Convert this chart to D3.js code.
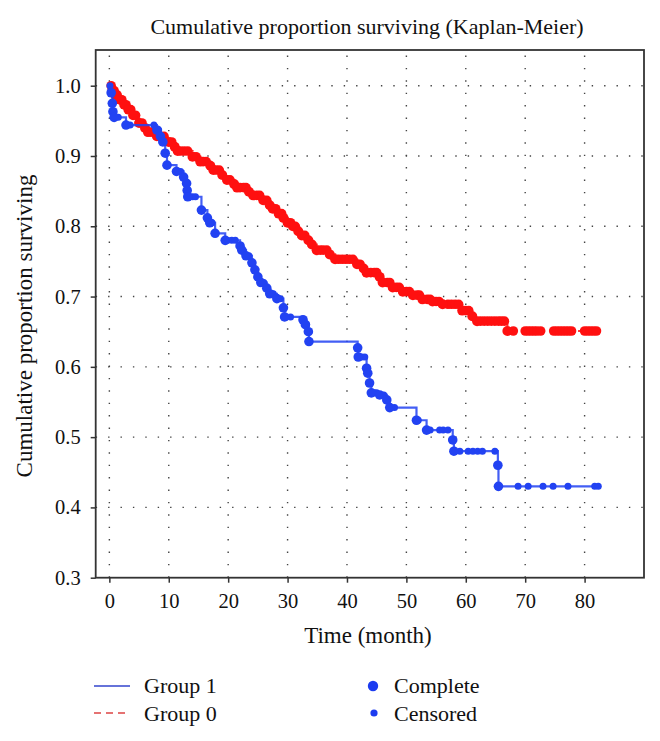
<!DOCTYPE html>
<html>
<head>
<meta charset="utf-8">
<script src="https://cdn.jsdelivr.net/npm/d3@7"></script>
<style>
html,body{margin:0;padding:0;background:#fff;}
svg{display:block;}
text{font-family:"Liberation Serif","DejaVu Serif",serif;fill:#111;}
</style>
</head>
<body>
<svg id="chart" width="660" height="741"></svg>
<script>
// ---------- data ----------
const titleText = "Cumulative proportion surviving (Kaplan-Meier)";
const xLabelText = "Time (month)";
const yLabelText = "Cumulative proportion surviving";
const xTicks = [0, 10, 20, 30, 40, 50, 60, 70, 80];
const yTicks = [0.3, 0.4, 0.5, 0.6, 0.7, 0.8, 0.9, 1.0];
const seriesNames = ["Group 1", "Group 0"];
const markerNames = ["Complete", "Censored"];

// Group 1 (blue) : event times and survival after each event
const g1Times = [0, 0.3, 0.5, 0.6, 0.8, 2.8, 8.0, 8.6, 9.0, 9.4, 9.7, 11.3, 12.5, 13.0, 13.1, 13.2,
  15.5, 16.5, 16.9, 17.8, 19.5, 22.0, 22.3, 23.0, 24.0, 24.5, 25.0, 25.5, 26.5, 27.0, 28.2, 29.3, 29.5,
  32.6, 33.0, 33.5, 33.6, 41.8, 41.9, 43.3, 43.5, 43.8, 44.1, 45.5, 46.7, 47.2, 51.7, 53.4, 57.8, 58.0,
  65.4, 65.5];
const g1Surv = [1.0, 0.99, 0.975, 0.963, 0.955, 0.944, 0.937, 0.928, 0.920, 0.904, 0.887, 0.878, 0.870, 0.861, 0.851, 0.842,
  0.823, 0.812, 0.805, 0.790, 0.780, 0.772, 0.766, 0.758, 0.748, 0.738, 0.728, 0.720, 0.712, 0.704, 0.697, 0.684, 0.671,
  0.667, 0.660, 0.650, 0.636, 0.627, 0.614, 0.598, 0.591, 0.577, 0.563, 0.560, 0.553, 0.542, 0.524, 0.510, 0.496, 0.480,
  0.460, 0.430];
const g1End = 82.7;
const g1Cens = [0.1, 1.5, 3.5, 7.5, 8.3, 12.0, 14.0, 14.5, 17.3, 19.9, 20.6, 21.2, 23.5, 26.0, 27.6, 28.8, 30.5, 33.2,
  42.5, 43.0, 44.6, 45.0, 46.2, 48.0, 52.0, 54.0, 55.6, 56.2, 57.0, 59.0, 60.4, 61.2, 62.0, 62.8, 64.9,
  68.8, 70.5, 73.0, 74.7, 77.2, 81.7, 82.3];

// Group 0 (red)
const g0Times = [0, 0.5, 1.0, 1.8, 2.5, 3.2, 4.0, 5.0, 6.0, 6.5, 8.0, 10.0, 11.0, 11.5, 14.0, 15.3, 17.0, 17.5,
  19.0, 19.8, 21.0, 21.5, 23.5, 24.2, 25.9, 27.0, 27.5, 28.5, 29.3, 30.0, 30.9, 31.8, 32.4, 33.5, 34.1, 34.9,
  37.1, 38.0, 41.7, 42.8, 43.3, 45.5, 46.0, 47.7, 49.4, 51.1, 52.7, 54.4, 56.1, 59.4, 61.1, 61.9, 67.0];
const g0Surv = [1.0, 0.993, 0.987, 0.980, 0.973, 0.966, 0.958, 0.947, 0.940, 0.934, 0.928, 0.920, 0.913, 0.907, 0.899, 0.892, 0.886, 0.880,
  0.873, 0.866, 0.860, 0.855, 0.849, 0.844, 0.837, 0.830, 0.825, 0.818, 0.812, 0.805, 0.800, 0.793, 0.787, 0.780, 0.774, 0.766,
  0.760, 0.753, 0.746, 0.740, 0.734, 0.728, 0.720, 0.713, 0.707, 0.702, 0.696, 0.693, 0.689, 0.680, 0.672, 0.665, 0.651];
const g0End = 82.7;
const g0Cens = [0.3, 0.8, 1.3, 2.1, 2.8, 3.6, 4.4, 5.5, 7.0, 7.5, 8.6, 9.2, 10.5, 12.0, 12.6, 13.2, 14.6, 15.8, 16.3,
  18.0, 18.5, 20.3, 22.0, 22.6, 23.0, 24.8, 25.3, 26.5, 28.0, 29.0, 30.5, 31.3, 32.9, 35.5, 36.0, 36.6,
  38.6, 39.2, 39.8, 40.4, 41.0, 42.2, 44.0, 44.6, 45.0, 46.8, 47.2, 48.3, 48.8, 50.0, 50.5, 51.8, 52.2,
  53.5, 54.0, 55.0, 55.5, 57.0, 57.6, 58.2, 58.8, 60.0, 60.5, 62.5, 63.1, 63.7, 64.3, 64.9, 65.5, 66.0, 66.5,
  68.0, 70.0, 70.5, 71.0, 71.5, 72.0, 72.6, 74.8, 75.3, 75.8, 76.3, 76.8, 77.3, 77.8, 80.0, 80.5, 81.0, 81.5, 82.0];

// ---------- layout ----------
const svg = d3.select("#chart");
const L = 95.7, R = 644, T = 50, B = 577.7;
const x = d3.scaleLinear().domain([-2.3, 90]).range([L, R]);
const y = d3.scaleLinear().domain([0.3, 1.0508]).range([B, T]);
const blue = "#2242f2", red = "#ff1010";

// title
svg.append("text").attr("x", 367).attr("y", 34).attr("text-anchor", "middle")
  .style("font-size", "22px").text(titleText);

// grid
const grid = svg.append("g");
grid.selectAll("line.v").data(xTicks).enter().append("line")
  .attr("x1", d => x(d)).attr("x2", d => x(d)).attr("y1", B).attr("y2", T)
  .attr("stroke", "#444").attr("stroke-width", 1.4).attr("stroke-dasharray", "1.4,11");
grid.selectAll("line.h").data(yTicks.slice(1)).enter().append("line")
  .attr("x1", L).attr("x2", R).attr("y1", d => y(d)).attr("y2", d => y(d))
  .attr("stroke", "#444").attr("stroke-width", 1.4).attr("stroke-dasharray", "1.4,11");

// axes
const xAxis = svg.append("g").attr("transform", `translate(0,${B})`)
  .call(d3.axisBottom(x).tickValues(xTicks).tickSize(5).tickSizeOuter(0).tickPadding(11).tickFormat(d3.format("d")));
const yAxis = svg.append("g").attr("transform", `translate(${L},0)`)
  .call(d3.axisLeft(y).tickValues(yTicks).tickSize(5).tickSizeOuter(0).tickPadding(10).tickFormat(d3.format(".1f")));
[xAxis, yAxis].forEach(a => {
  a.select(".domain").remove();
  a.selectAll(".tick line").attr("stroke", "#333").attr("stroke-width", 1.5);
  a.selectAll(".tick text").style("font-family", '"Liberation Serif",serif').style("font-size", "20.5px").attr("fill", "#111");
});

// frame
svg.append("rect").attr("x", L).attr("y", T).attr("width", R - L).attr("height", B - T)
  .attr("fill", "none").attr("stroke", "#333").attr("stroke-width", 1.8);

// axis titles
svg.append("text").attr("x", 368).attr("y", 643).attr("text-anchor", "middle")
  .style("font-size", "23px").text(xLabelText);
svg.append("text").attr("transform", `translate(32,326) rotate(-90)`).attr("text-anchor", "middle")
  .style("font-size", "23px").text(yLabelText);

// curves
const plot = svg.append("g");
function drawGroup(times, surv, end, cens, color, dashed, rC, rE) {
  const pts = times.map((t, i) => [t, surv[i]]);
  pts.push([end, surv[surv.length - 1]]);
  const line = d3.line().x(d => x(d[0])).y(d => y(d[1])).curve(d3.curveStepAfter);
  plot.append("path").attr("d", line(pts)).attr("fill", "none").attr("stroke", color)
    .attr("stroke-width", 2.2).attr("stroke-opacity", 0.85)
    .attr("stroke-dasharray", dashed ? "9,5" : null);
  const lookup = t => surv[Math.max(0, d3.bisectRight(times, t) - 1)];
  plot.append("g").selectAll("circle").data(cens).enter().append("circle")
    .attr("cx", d => x(d)).attr("cy", d => y(lookup(d))).attr("r", rC).attr("fill", color);
  plot.append("g").selectAll("circle").data(pts.slice(1, -1)).enter().append("circle")
    .attr("cx", d => x(d[0])).attr("cy", d => y(d[1])).attr("r", rE).attr("fill", color);
}
drawGroup(g0Times, g0Surv, g0End, g0Cens, red, true, 4.8, 5.0);
drawGroup(g1Times, g1Surv, g1End, g1Cens, blue, false, 3.5, 4.8);

// legend
const lg = svg.append("g");
lg.append("line").attr("x1", 94).attr("x2", 130).attr("y1", 686).attr("y2", 686)
  .attr("stroke", "#3344cc").attr("stroke-width", 1.6);
lg.append("line").attr("x1", 94).attr("x2", 130).attr("y1", 713).attr("y2", 713)
  .attr("stroke", "#dd4444").attr("stroke-width", 1.6).attr("stroke-dasharray", "7,5");
lg.append("text").attr("x", 144).attr("y", 693).style("font-size", "22px").text(seriesNames[0]);
lg.append("text").attr("x", 144).attr("y", 721).style("font-size", "22px").text(seriesNames[1]);
lg.append("circle").attr("cx", 373).attr("cy", 686).attr("r", 5.2).attr("fill", "#1c3cf0");
lg.append("circle").attr("cx", 374).attr("cy", 713).attr("r", 3.6).attr("fill", "#1c3cf0");
lg.append("text").attr("x", 394).attr("y", 693).style("font-size", "22px").text(markerNames[0]);
lg.append("text").attr("x", 394).attr("y", 721).style("font-size", "22px").text(markerNames[1]);
</script>
</body>
</html>
